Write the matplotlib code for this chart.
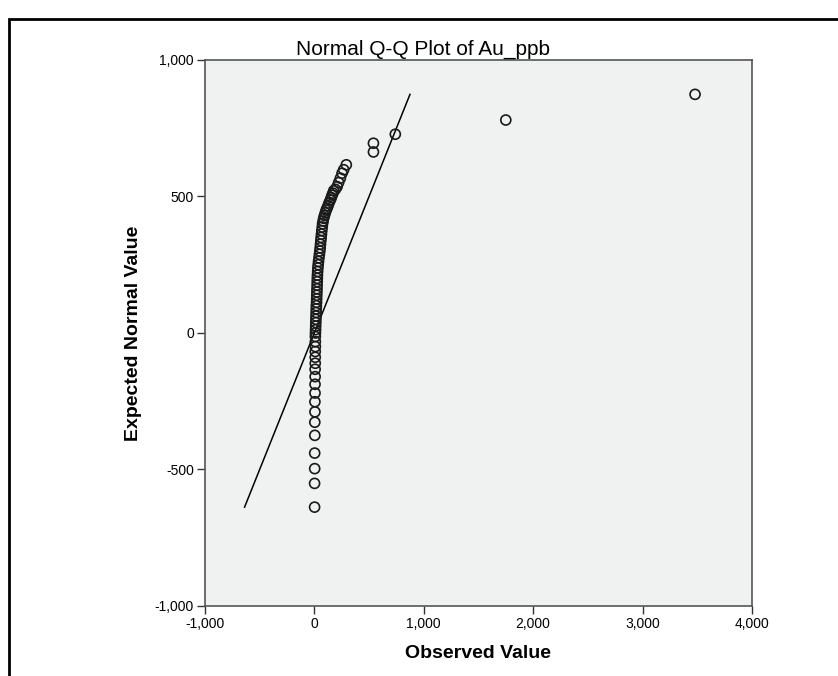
import matplotlib
matplotlib.use("Agg")
import matplotlib.pyplot as plt
from matplotlib.patches import Rectangle
from matplotlib.ticker import FuncFormatter

plt.rcParams['font.family'] = ['Liberation Sans', 'DejaVu Sans']

observed = [
    2, 2, 3, 3, 4, 4, 5, 5, 6, 6, 7, 7, 8, 8, 8, 9, 9, 9,
    10, 11, 12, 13, 14, 15, 16, 17, 18, 20, 21, 22, 23, 24, 25, 26,
    27, 28, 30, 32, 35, 38, 42, 46, 50, 53, 56, 59, 62, 65, 68, 72,
    75, 80, 85, 92, 100, 108, 116, 125, 134, 146, 155, 162, 170, 177,
    192, 208, 222, 238, 253, 268, 292,
    540, 540, 740, 1750, 3480,
]
expected = [
    -638, -551, -497, -440, -375, -327, -289, -252, -220, -188, -160, -133, -111, -89, -68, -50, -32, -13,
    0, 12, 25, 38, 50, 62, 75, 88, 100, 112, 125, 138, 150, 162, 175, 188,
    200, 212, 225, 238, 250, 262, 275, 288, 300, 312, 325, 338, 350, 362, 375, 388,
    400, 410, 420, 430, 440, 450, 457, 466, 476, 487, 496, 505, 512, 521,
    526, 536, 551, 567, 585, 598, 616,
    663, 695, 728, 780, 874,
]

fig = plt.figure(figsize=(8.38, 6.76), dpi=100)
ax = fig.add_axes([0.2446, 0.1036, 0.6527, 0.8077])
ax.set_facecolor('#f0f1f1')

# reference line y = x over the range of expected values
lo, hi = min(expected), max(expected)
ax.plot([lo, hi], [lo, hi], color='black', lw=1.1)

ax.scatter(observed, expected, s=52, facecolors='none', edgecolors='#1a1a1a', linewidths=1.2, zorder=3)

ax.set_xlim(-1000, 4000)
ax.set_ylim(-1000, 1000)
ax.set_xticks([-1000, 0, 1000, 2000, 3000, 4000])
ax.set_yticks([-1000, -500, 0, 500, 1000])
fmt = FuncFormatter(lambda v, p: f"{int(v):,}")
ax.xaxis.set_major_formatter(fmt)
ax.yaxis.set_major_formatter(fmt)
ax.tick_params(direction='out', length=6, width=1, color='#333333', labelsize=10, pad=2)
for s in ax.spines.values():
    s.set_color('#555555')
    s.set_linewidth(1.2)

fig.text(423 / 838, 1 - 49 / 676, 'Normal Q-Q Plot of Au_ppb', fontsize=15,
         ha='center', va='center')
ax.set_xlabel('Observed Value', fontsize=14, fontweight='bold', labelpad=10)
ax.set_ylabel('Expected Normal Value', fontsize=14, fontweight='bold', labelpad=9)

# outer chart frame
fig.patches.append(Rectangle((9 / 838, -0.02), 1.05, 1 - 19 / 676 + 0.02,
                             transform=fig.transFigure, fill=False,
                             edgecolor='black', lw=2))

fig.savefig('out.png', dpi=100)
